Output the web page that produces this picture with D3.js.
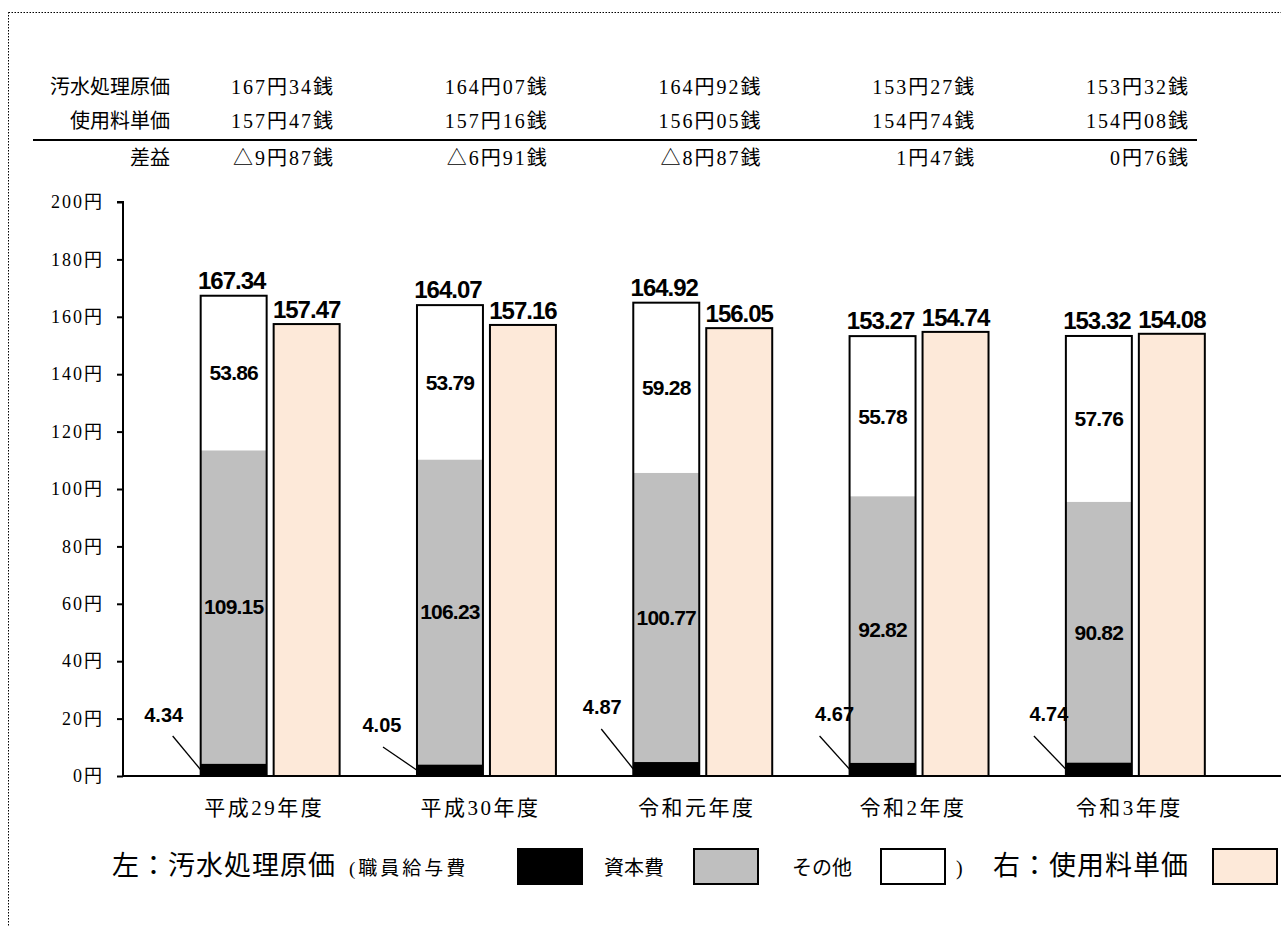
<!DOCTYPE html>
<html>
<head>
<meta charset="utf-8">
<script src="https://cdn.jsdelivr.net/npm/d3@7"></script>
<style>
  body { margin: 0; background: #fff; }
  .serif { font-family: "Liberation Serif", "Noto Sans CJK JP", serif; }
  .lbl { font-family: "Liberation Sans", Arial, sans-serif; font-weight: bold; }
</style>
</head>
<body>
<script>
// data
const categories = ['平成29年度', '平成30年度', '令和元年度', '令和2年度', '令和3年度'];
const staffCost = [4.34, 4.05, 4.87, 4.67, 4.74];      // 職員給与費
const capitalCost = [109.15, 106.23, 100.77, 92.82, 90.82]; // 資本費
const otherCost = [53.86, 53.79, 59.28, 55.78, 57.76];  // その他
const treatmentCost = [167.34, 164.07, 164.92, 153.27, 153.32]; // 汚水処理原価
const usageFee = [157.47, 157.16, 156.05, 154.74, 154.08];      // 使用料単価
const rowLabels = ['汚水処理原価', '使用料単価', '差益'];
const yTicks = [0, 20, 40, 60, 80, 100, 120, 140, 160, 180, 200];

// placement of the small staff-cost labels (hand placed in the original)
const smallLabelPos = [[-37, -61], [-35, -51], [-31, -69], [-15, -62], [-17, -62]];
const leaderStart = [[-28, -40], [-34, -29], [-32, -47], [-30, -40], [-32, -40]];

const W = 1281, H = 927;
const svg = d3.select('body').append('svg').attr('width', W).attr('height', H);

// dotted frame
svg.append('rect')
  .attr('x', 8.5).attr('y', 12.5).attr('width', 1300).attr('height', 1000)
  .attr('fill', 'none').attr('stroke', '#000').attr('stroke-width', 1)
  .attr('stroke-dasharray', '1.5,1.5');

const y = d3.scaleLinear().domain([0, 200]).range([776, 202]);
const x0 = d3.scaleBand().domain(categories).range([162, 1243.5]);
const x1 = d3.scaleBand().domain(['cost', 'fee']).range([0, x0.bandwidth()])
  .paddingInner(0.096).paddingOuter(0.53);

const colors = { staff: '#000000', capital: '#BFBFBF', other: '#FFFFFF' };

const rows = categories.map((c, i) => ({
  cat: c, staff: staffCost[i], capital: capitalCost[i], other: otherCost[i],
  total: treatmentCost[i], fee: usageFee[i], i
}));
const stack = d3.stack().keys(['staff', 'capital', 'other'])(rows);

// ---- table on top
function yenSen(v) {
  const a = Math.abs(v);
  let yen = Math.floor(a + 1e-9);
  let sen = Math.round((a - yen) * 100);
  if (sen === 100) { yen += 1; sen = 0; }
  return (v < -1e-9 ? '△' : '') + yen + '円' + String(sen).padStart(2, '0') + '銭';
}
const tableX = d3.scaleLinear().domain([0, categories.length - 1]).range([334, 1189]);
const rowY = [87, 121, 158];
const tableVals = [
  treatmentCost.map(yenSen),
  usageFee.map(yenSen),
  usageFee.map((f, i) => yenSen(f - treatmentCost[i]))
];
const table = svg.append('g').attr('class', 'serif').attr('font-size', 20);
rowLabels.forEach((r, k) => {
  table.append('text').attr('x', 170).attr('y', rowY[k])
    .attr('text-anchor', 'end').attr('dominant-baseline', 'central').text(r);
  table.selectAll(null).data(tableVals[k]).join('text')
    .attr('x', (d, i) => tableX(i) + 1).attr('y', rowY[k])
    .attr('letter-spacing', 2)
    .attr('text-anchor', 'end').attr('dominant-baseline', 'central').text(d => d);
});
svg.append('line').attr('x1', 33).attr('x2', 1197).attr('y1', 140).attr('y2', 140)
  .attr('stroke', '#000').attr('stroke-width', 2);

// ---- y axis
const yAxis = svg.append('g').attr('transform', 'translate(123,0)')
  .call(d3.axisLeft(y).tickValues(yTicks).tickSize(6).tickPadding(13).tickFormat(d => d + '円'));
yAxis.select('.domain').attr('stroke-width', 2).attr('d', `M-6,${y(200)}H0V${y(0)}`);
yAxis.selectAll('.tick line').attr('stroke-width', 2);
yAxis.selectAll('.tick text').attr('class', 'serif').attr('fill', '#000')
  .style('font-size', '18px').attr('letter-spacing', 2);

// ---- bars
const groups = svg.append('g');
stack.forEach(layer => {
  groups.selectAll(null).data(layer).join('rect')
    .attr('x', d => x0(d.data.cat) + x1('cost'))
    .attr('width', x1.bandwidth())
    .attr('y', d => y(d[1]))
    .attr('height', d => y(d[0]) - y(d[1]))
    .attr('fill', colors[layer.key]);
});
// outline of the stacked column
groups.selectAll(null).data(rows).join('rect')
  .attr('x', d => x0(d.cat) + x1('cost'))
  .attr('width', x1.bandwidth())
  .attr('y', d => y(d.total))
  .attr('height', d => y(0) - y(d.total))
  .attr('fill', 'none').attr('stroke', '#000').attr('stroke-width', 2);
groups.selectAll(null).data(rows).join('rect')
  .attr('x', d => x0(d.cat) + x1('fee'))
  .attr('width', x1.bandwidth())
  .attr('y', d => y(d.fee))
  .attr('height', d => y(0) - y(d.fee))
  .attr('fill', '#FDE9D9').attr('stroke', '#000').attr('stroke-width', 2);

// baseline
svg.append('line').attr('x1', 122).attr('x2', W).attr('y1', y(0)).attr('y2', y(0))
  .attr('stroke', '#000').attr('stroke-width', 2);

// ---- data labels
const labels = svg.append('g').attr('class', 'lbl').attr('fill', '#000');
const cx = (d, k) => x0(d.cat) + x1(k) + x1.bandwidth() / 2;
labels.selectAll(null).data(rows).join('text')
  .attr('x', d => cx(d, 'cost') - 2).attr('y', d => y(d.total) - 7)
  .attr('text-anchor', 'middle').attr('font-size', 24).attr('letter-spacing', -1)
  .text(d => d.total.toFixed(2));
labels.selectAll(null).data(rows).join('text')
  .attr('x', d => cx(d, 'fee')).attr('y', d => y(d.fee) - 6)
  .attr('text-anchor', 'middle').attr('font-size', 24).attr('letter-spacing', -1)
  .text(d => d.fee.toFixed(2));
['capital', 'other'].forEach(k => {
  labels.selectAll(null).data(rows).join('text')
    .attr('x', d => cx(d, 'cost'))
    .attr('y', d => y(k === 'capital' ? d.staff + d.capital / 2 : d.staff + d.capital + d.other / 2))
    .attr('text-anchor', 'middle').attr('dominant-baseline', 'central')
    .attr('font-size', 21).attr('letter-spacing', -0.8)
    .text(d => d[k].toFixed(2));
});
// small staff-cost labels with leader lines
labels.selectAll(null).data(rows).join('line')
  .attr('x1', d => x0(d.cat) + x1('cost') + leaderStart[d.i][0])
  .attr('y1', d => y(0) + leaderStart[d.i][1])
  .attr('x2', d => x0(d.cat) + x1('cost'))
  .attr('y2', d => y(d.staff / 2))
  .attr('stroke', '#000').attr('stroke-width', 1.3);
labels.selectAll(null).data(rows).join('text')
  .attr('x', d => x0(d.cat) + x1('cost') + smallLabelPos[d.i][0])
  .attr('y', d => y(0) + smallLabelPos[d.i][1])
  .attr('text-anchor', 'middle').attr('dominant-baseline', 'central')
  .attr('font-size', 20).text(d => d.staff.toFixed(2));

// ---- category labels
svg.append('g').attr('class', 'serif').attr('font-size', 21)
  .selectAll('text').data(categories).join('text')
  .attr('x', d => x0(d) + x0.bandwidth() / 2 - 6).attr('y', 808)
  .attr('letter-spacing', 2.5)
  .attr('text-anchor', 'middle').attr('dominant-baseline', 'central').text(d => d);

// ---- legend
const leg = svg.append('g').attr('class', 'serif').attr('fill', '#000');
const legY = 866;
leg.append('text').attr('x', 112).attr('y', legY).attr('font-size', 27)
  .attr('letter-spacing', 1)
  .attr('dominant-baseline', 'central').text('左：汚水処理原価');
leg.append('text').attr('x', 349).attr('y', legY + 2).attr('font-size', 19)
  .attr('letter-spacing', 3)
  .attr('dominant-baseline', 'central').text('(職員給与費');
leg.append('text').attr('x', 604).attr('y', legY + 2).attr('font-size', 20)
  .attr('dominant-baseline', 'central').text('資本費');
leg.append('text').attr('x', 792).attr('y', legY + 2).attr('font-size', 20)
  .attr('dominant-baseline', 'central').text('その他');
leg.append('text').attr('x', 956).attr('y', legY + 2).attr('font-size', 20)
  .attr('dominant-baseline', 'central').text(')');
leg.append('text').attr('x', 993).attr('y', legY).attr('font-size', 27)
  .attr('letter-spacing', 1)
  .attr('dominant-baseline', 'central').text('右：使用料単価');
const legBoxes = [
  { x: 518, fill: colors.staff },
  { x: 694, fill: colors.capital },
  { x: 881, fill: colors.other },
  { x: 1213, fill: '#FDE9D9' }
];
leg.selectAll('rect').data(legBoxes).join('rect')
  .attr('x', d => d.x).attr('y', legY - 17).attr('width', 64).attr('height', 35)
  .attr('fill', d => d.fill).attr('stroke', '#000').attr('stroke-width', 2);
</script>
</body>
</html>
